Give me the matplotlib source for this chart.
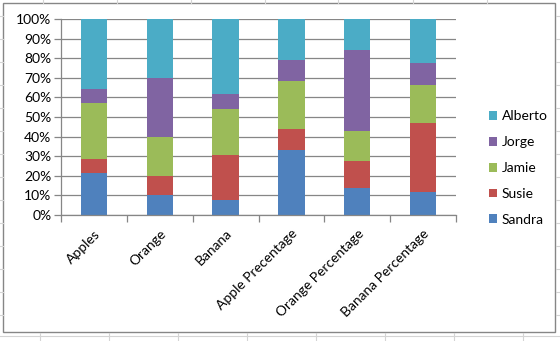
"""100% stacked column chart of fruit counts and percentages per person."""

import matplotlib.pyplot as plt
import numpy as np
from matplotlib.lines import Line2D
from matplotlib.patches import Rectangle
from matplotlib.ticker import FuncFormatter, MultipleLocator

plt.rcParams["font.family"] = ["Lato", "DejaVu Sans"]

categories = [
    "Apples",
    "Orange",
    "Banana",
    "Apple Precentage",
    "Orange Percentage",
    "Banana Percentage",
]
people = ["Sandra", "Susie", "Jamie", "Jorge", "Alberto"]
sandra = [3, 1, 1, 0.60, 0.20, 0.20]
susie = [1, 1, 3, 0.20, 0.20, 0.60]
jamie = [4, 2, 3, 0.44, 0.22, 0.33]
jorge = [1, 3, 1, 0.20, 0.60, 0.20]
alberto = [5, 3, 5, 0.38, 0.23, 0.38]
colors = ["#4F81BD", "#C0504D", "#9BBB59", "#8064A2", "#4BACC6"]

series = np.array([sandra, susie, jamie, jorge, alberto], dtype=float)
shares = series / series.sum(axis=0)  # each column stacks to 100%

W, H = 560, 341
FS = 10
fig = plt.figure(figsize=(W / 100, H / 100), dpi=100)

# worksheet cell lines behind the chart
cell = "#D4D4D4"
for x in [40, 109, 178, 247, 316, 385, 454, 523]:
    fig.add_artist(Line2D([x / W, x / W], [0, 8 / H], color=cell, lw=0.8))
for x in [43, 117, 191, 265, 338, 413, 487]:
    fig.add_artist(Line2D([x / W, x / W], [1 - 3 / H, 1], color=cell, lw=0.8))
for y in [16, 39, 62, 85, 108, 131, 154, 177, 200, 223, 246, 269, 292, 315]:
    fig.add_artist(Line2D([0, 3 / W], [1 - y / H, 1 - y / H], color=cell, lw=0.8))
    fig.add_artist(Line2D([1 - 4 / W, 1], [1 - y / H, 1 - y / H], color=cell, lw=0.8))
fig.add_artist(Line2D([0, 1], [1 - 336 / H, 1 - 336 / H], color=cell, lw=0.8))

# chart area frame
fig.add_artist(
    Rectangle(
        (3 / W, 1 - 332 / H),
        552 / W,
        329 / H,
        transform=fig.transFigure,
        facecolor="white",
        edgecolor="#868686",
        lw=1.0,
        zorder=0,
    )
)

ax = fig.add_axes([61 / W, 1 - 215 / H, 395 / W, 196 / H])
ax.set_facecolor("none")

x = np.arange(len(categories))
bottom = np.zeros(len(categories))
for name, vals, color in zip(people, shares, colors):
    ax.bar(x, vals, 0.4, bottom=bottom, color=color, label=name, zorder=2)
    bottom += vals

ax.set_xlim(-0.5, len(categories) - 0.5)
ax.set_ylim(0, 1)
ax.yaxis.set_major_locator(MultipleLocator(0.1))
ax.yaxis.set_major_formatter(FuncFormatter(lambda v, _: f"{v * 100:.0f}%"))
ax.grid(axis="y", color="#868686", lw=0.9, zorder=1)

ax.set_xticks(x)
ax.set_xticklabels(categories, rotation=45, ha="right", rotation_mode="anchor")
ax.set_xticks(np.arange(-0.5, len(categories)), minor=True)
ax.tick_params(axis="x", which="major", length=0, pad=9, labelsize=FS)
ax.tick_params(axis="x", which="minor", length=5, color="#868686", width=0.9)
ax.tick_params(axis="y", length=5, color="#868686", width=0.9, labelsize=FS, pad=2)

for side in ["top", "right"]:
    ax.spines[side].set_visible(False)
for side in ["left", "bottom"]:
    ax.spines[side].set_color("#868686")
    ax.spines[side].set_linewidth(0.9)

handles, labels = ax.get_legend_handles_labels()
fig.legend(
    handles[::-1],
    labels[::-1],
    loc="center left",
    bbox_to_anchor=(476 / W, 1 - 168 / H),
    frameon=False,
    fontsize=FS,
    handlelength=0.6,
    handleheight=0.6,
    handletextpad=0.35,
    labelspacing=1.0,
)

fig.savefig("out.png", dpi=100)
